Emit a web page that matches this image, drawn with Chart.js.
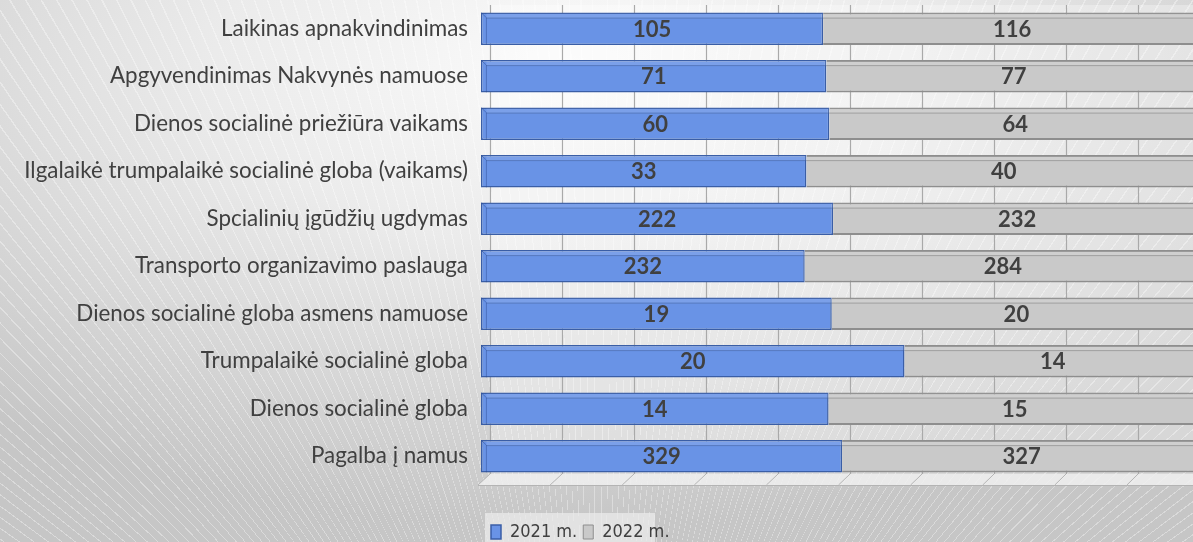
<!DOCTYPE html>
<html>
<head>
<meta charset="utf-8">
<script src="https://cdn.jsdelivr.net/npm/chart.js@4"></script>
<style>
  html, body { margin: 0; padding: 0; width: 1193px; height: 542px; overflow: hidden; }
  body {
    background:
      repeating-conic-gradient(from 0deg at 50% 175%, rgba(255,255,255,0) 0deg 0.62deg, rgba(255,255,255,0.35) 0.62deg 0.7deg),
      radial-gradient(ellipse 75% 85% at 48% 12%, #fbfbfb 0%, #ebebeb 40%, #d2d2d2 80%, #c6c6c6 100%);
  }
  .wrap { position: absolute; left: 0; top: 0; width: 1210px; height: 542px; }
</style>
</head>
<body>
<div class="wrap"><canvas id="c" width="1210" height="542"></canvas></div>
<script>
// ===== Socialinės paslaugos 2021 / 2022 (100% stacked) =====
const categories = [
  'Laikinas apnakvindinimas',
  'Apgyvendinimas Nakvynės namuose',
  'Dienos socialinė priežiūra vaikams',
  'Ilgalaikė trumpalaikė socialinė globa (vaikams)',
  'Spcialinių įgūdžių ugdymas',
  'Transporto organizavimo paslauga',
  'Dienos socialinė globa asmens namuose',
  'Trumpalaikė socialinė globa',
  'Dienos socialinė globa',
  'Pagalba į namus',
];
const values2021 = [105, 71, 60, 33, 222, 232, 19, 20, 14, 329];
const values2022 = [116, 77, 64, 40, 232, 284, 20, 14, 15, 327];
const seriesNames = ['2021 m.', '2022 m.'];

(() => {
  const canvas = document.getElementById('c');
  const ctx = canvas.getContext('2d');

  const totals = values2021.map((v, i) => v + values2022[i]);
  const pct = (arr) => arr.map((v, i) => v / totals[i] * 100);
  const raw = [values2021, values2022];

  const DX = 9, DY = 5; // глубина "3D"

  // задняя стенка и пол
  const wallPlugin = {
    id: 'wall',
    beforeDatasetsDraw(chart) {
      const { ctx, chartArea: a, scales: { x } } = chart;
      ctx.save();
      ctx.fillStyle = 'rgba(255,255,255,0.3)';
      ctx.fillRect(a.left + DX, a.top, a.right - a.left, a.bottom - a.top - 6);
      // grid lines on back wall
      ctx.strokeStyle = '#a9a9a9';
      ctx.lineWidth = 1.2;
      for (let v = 0; v <= 100; v += 10) {
        const px = Math.round(x.getPixelForValue(v)) + DX + 0.5;
        ctx.beginPath();
        ctx.moveTo(px, a.top);
        ctx.lineTo(px, a.bottom - 6);
        ctx.stroke();
      }
      // floor
      const fy0 = a.bottom - 6, fy1 = a.bottom + 5;
      ctx.fillStyle = 'rgba(240,240,240,0.85)';
      ctx.beginPath();
      ctx.moveTo(a.left + DX, fy0);
      ctx.lineTo(a.right + DX, fy0);
      ctx.lineTo(a.right - 2, fy1);
      ctx.lineTo(a.left - 3, fy1);
      ctx.closePath();
      ctx.fill();
      ctx.strokeStyle = '#b4b4b4';
      ctx.lineWidth = 1;
      for (let v = 0; v <= 100; v += 10) {
        const px = x.getPixelForValue(v);
        ctx.beginPath();
        ctx.moveTo(px + DX, fy0);
        ctx.lineTo(px - 3 + v * 0.01, fy1);
        ctx.stroke();
      }
      ctx.beginPath();
      ctx.moveTo(a.left - 3, fy1 + 0.5);
      ctx.lineTo(a.right, fy1 + 0.5);
      ctx.stroke();
      ctx.restore();
    },
  };

  // грани столбиков + подписи значений
  const barDecorPlugin = {
    id: 'barDecor',
    afterDatasetsDraw(chart) {
      const { ctx } = chart;
      ctx.save();
      chart.data.datasets.forEach((ds, di) => {
        const meta = chart.getDatasetMeta(di);
        meta.data.forEach((bar) => {
          const top = bar.y - bar.height / 2;
          const bottom = bar.y + bar.height / 2;
          const left = Math.min(bar.base, bar.x);
          const right = Math.max(bar.base, bar.x);
          // светлая верхняя грань
          ctx.fillStyle = 'rgba(255,255,255,0.12)';
          ctx.fillRect(left + (di === 0 ? DX * 0.6 : 0), top + 1, right - left - (di === 0 ? DX * 0.6 : 0), DY);
          ctx.strokeStyle = di === 0 ? 'rgba(40,70,140,0.45)' : 'rgba(120,120,120,0.55)';
          ctx.lineWidth = 1;
          ctx.beginPath();
          ctx.moveTo(left + (di === 0 ? DX * 0.6 : 0), top + DY + 0.5);
          ctx.lineTo(right, top + DY + 0.5);
          ctx.stroke();
          if (di === 0) {
            ctx.beginPath();
            ctx.moveTo(left, top);
            ctx.lineTo(left + DX * 0.6, top + DY);
            ctx.lineTo(left + DX * 0.6, bottom);
            ctx.stroke();
          }
        });
      });
      // values
      ctx.font = 'bold 22px Lato';
      ctx.fillStyle = '#404040';
      ctx.textAlign = 'center';
      ctx.textBaseline = 'middle';
      chart.data.datasets.forEach((ds, di) => {
        const meta = chart.getDatasetMeta(di);
        meta.data.forEach((bar, i) => {
          const cx = (bar.x + bar.base) / 2;
          ctx.fillText(String(raw[di][i]), cx, bar.y + 1);
        });
      });
      ctx.restore();
    },
  };

  // легенда: сдвиг влево-вниз и светлая подложка
  const legendPlugin = {
    id: 'legendPos',
    beforeDraw(chart) {
      const lg = chart.legend;
      if (!lg) return;
      const w = lg.right - lg.left;
      const h = lg.bottom - lg.top;
      lg.left = 485;
      lg.right = 485 + w;
      lg.top = 517;
      lg.bottom = 517 + h;
      const { ctx } = chart;
      ctx.save();
      ctx.fillStyle = 'rgba(235,235,235,0.75)';
      ctx.fillRect(485, 513, 170, 30);
      ctx.restore();
    },
  };

  new Chart(ctx, {
    type: 'bar',
    data: {
      labels: categories,
      datasets: [
        {
          label: seriesNames[0],
          data: pct(values2021),
          backgroundColor: '#6993e6',
          borderColor: '#3a5ea6',
          borderWidth: 1.5,
          borderSkipped: false,
          barPercentage: 0.68,
          categoryPercentage: 1,
        },
        {
          label: seriesNames[1],
          data: pct(values2022),
          backgroundColor: '#c9c9c9',
          borderColor: '#8e8e8e',
          borderWidth: { top: 2, bottom: 2, left: 0, right: 0 },
          borderSkipped: false,
          barPercentage: 0.68,
          categoryPercentage: 1,
        },
      ],
    },
    options: {
      indexAxis: 'y',
      responsive: false,
      animation: false,
      layout: { padding: { top: 5, right: 9, left: 0, bottom: 0 } },
      scales: {
        x: {
          stacked: true,
          min: 0,
          max: 100,
          grid: { display: false },
          border: { display: false },
          ticks: { display: false },
          afterFit: (s) => { s.height = 28; s.paddingLeft = 0; s.paddingRight = 0; },
        },
        y: {
          stacked: true,
          grid: { display: false },
          border: { display: false },
          ticks: {
            color: '#404040',
            font: { family: 'Lato', size: 22.4 },
            padding: 5,
          },
          afterFit: (s) => { s.width = 481; s.paddingTop = 0; s.paddingBottom = 0; },
        },
      },
      plugins: {
        legend: {
          position: 'bottom',
          align: 'start',
          labels: {
            color: '#404040',
            font: { family: "'DejaVu Sans Condensed', Lato", size: 18 },
            boxWidth: 10,
            boxHeight: 14,
            padding: 6,
            useBorderRadius: false,
          },
        },
        tooltip: { enabled: false },
      },
    },
    plugins: [wallPlugin, barDecorPlugin, legendPlugin],
  });
})();
</script>
</body>
</html>
